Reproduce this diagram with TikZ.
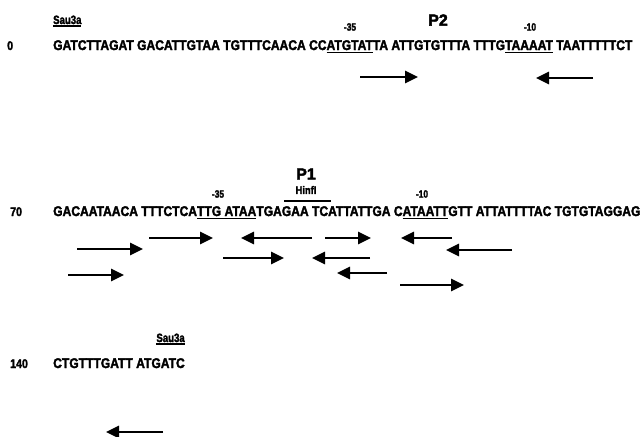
\documentclass[tikz,border=0pt]{standalone}
\usepackage{fontspec}
\usepackage{graphicx}
\setmainfont{Liberation Sans}
\newfontfamily\heavyfont[FakeBold=2.5]{Liberation Sans Bold}
\usetikzlibrary{arrows.meta}

% underlined stretch of sequence
\newcommand\ulseg[1]{\setbox0=\hbox{#1}\rlap{\rule[-3.2pt]{\wd0}{1.5pt}}\box0\relax}
% underlined enzyme name
\newcommand\ulsite[1]{\setbox0=\hbox{#1}\rlap{\rule[-3pt]{\wd0}{1.6pt}}\box0\relax}
% condensed setting
\newcommand\narrow[2]{\scalebox{#1}[1]{#2}}

\tikzset{
  seqtext/.style={anchor=base west, inner sep=0pt, font=\heavyfont\fontsize{14}{16}\selectfont},
  numlabel/.style={anchor=base west, inner sep=0pt, font=\heavyfont\fontsize{12.5}{14}\selectfont},
  sitelabel/.style={inner sep=0pt, font=\heavyfont\fontsize{12}{14}\selectfont},
  boxlabel/.style={inner sep=0pt, font=\heavyfont\fontsize{10.5}{12}\selectfont},
  promlabel/.style={inner sep=0pt, font=\heavyfont\fontsize{16}{18}\selectfont},
  enzlabel/.style={inner sep=0pt, font=\heavyfont\fontsize{11}{13}\selectfont},
  repeatarrow/.style={line width=2.6pt, -{Triangle[length=13pt,width=12pt]}},
}

\begin{document}
\begin{tikzpicture}[x=1pt, y=-1pt]
\useasboundingbox (0,0) rectangle (644,436);

% ---- row 0 ----
\node[numlabel] (n0) at (7,50) {\narrow{0.85}{0}};
\node[seqtext] (r0) at (53,50) {\narrow{0.863}{GATCTTAGAT GACATTGTAA TGTTTCAACA CC\ulseg{ATGTAT}TA ATTGTGTTTA TTTG\ulseg{TAAAAT} TAATTTTTCT}};
\node[sitelabel, anchor=base west] (sau1) at (53,24) {\narrow{0.8}{\ulsite{Sau3a}}};
\node[boxlabel] (p2m35) at (350,27) {\narrow{0.8}{-35}};
\node[boxlabel] (p2m10) at (530,27) {\narrow{0.8}{-10}};
\node[promlabel] (p2) at (438,20) {P2};

\draw[repeatarrow] (360,77) -- (418,77);
\draw[repeatarrow] (593,78) -- (536,78);

% ---- row 70 ----
\node[numlabel] (n70) at (10,216) {\narrow{0.85}{70}};
\node[seqtext] (r70) at (53,216) {\narrow{0.863}{GACAATAACA TTTCTCA\ulseg{TTG ATAA}TGAGAA TCATTATTGA C\ulseg{ATAATT}GTT ATTATTTTAC TGTGTAGGAG}};
\node[promlabel] (p1) at (306,174) {P1};
\node[enzlabel] (hinf) at (306,190) {\narrow{0.85}{HinfI}};
\draw[line width=1.6pt] (284,201) -- (331,201);
\node[boxlabel] (p1m35) at (218,194) {\narrow{0.8}{-35}};
\node[boxlabel] (p1m10) at (422,194) {\narrow{0.8}{-10}};

\draw[repeatarrow] (77,249) -- (143,249);
\draw[repeatarrow] (149,238) -- (213,238);
\draw[repeatarrow] (312,238) -- (241,238);
\draw[repeatarrow] (223,258) -- (284,258);
\draw[repeatarrow] (68,275) -- (124,275);
\draw[repeatarrow] (325,238) -- (371,238);
\draw[repeatarrow] (452,238) -- (401,238);
\draw[repeatarrow] (512,250) -- (446,250);
\draw[repeatarrow] (370,258) -- (312,258);
\draw[repeatarrow] (387,273) -- (337,273);
\draw[repeatarrow] (400,285) -- (464,285);

% ---- row 140 ----
\node[numlabel] (n140) at (10,368) {\narrow{0.85}{140}};
\node[seqtext] (r140) at (53,368) {\narrow{0.863}{CTGTTTGATT ATGATC}};
\node[sitelabel, anchor=base east] (sau2) at ([yshift=26pt]r140.base east) {\narrow{0.8}{\ulsite{Sau3a}}};

\draw[repeatarrow] (163,432) -- (106,432);
\end{tikzpicture}
\end{document}
